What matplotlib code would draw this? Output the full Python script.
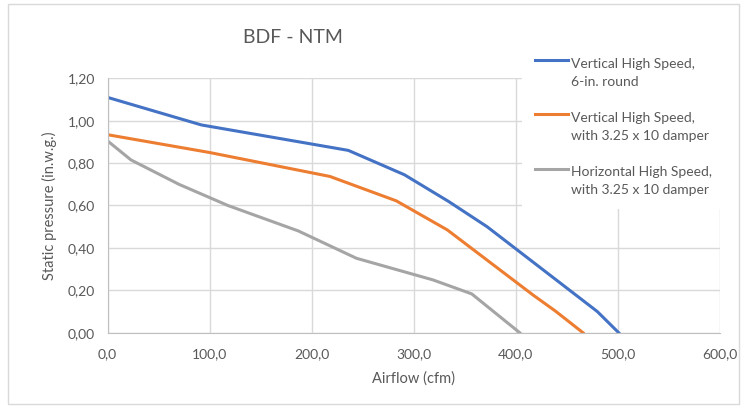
import matplotlib.pyplot as plt
from matplotlib.ticker import FuncFormatter, MultipleLocator
from matplotlib.patches import Rectangle

# Fan curves (airflow in cfm, static pressure in in.w.g.)
vert_round_x = [0, 92, 236, 291, 334, 372, 480, 501]
vert_round_y = [1.11, 0.98, 0.86, 0.745, 0.62, 0.50, 0.10, 0.0]

vert_damper_x = [0, 100, 218, 283, 333, 417, 439, 466]
vert_damper_y = [0.934, 0.85, 0.737, 0.622, 0.485, 0.178, 0.102, 0.0]

horiz_damper_x = [0, 23, 70, 118, 187, 244, 319, 357, 404]
horiz_damper_y = [0.905, 0.815, 0.70, 0.60, 0.48, 0.351, 0.249, 0.183, 0.0]

labels = ["Vertical High Speed,\n6-in. round",
          "Vertical High Speed,\nwith 3.25 x 10 damper",
          "Horizontal High Speed,\nwith 3.25 x 10 damper"]
colors = ["#4472C4", "#ED7D31", "#A5A5A5"]

plt.rcParams['font.family'] = ['Lato', 'DejaVu Sans']
txt = "#595959"

fig = plt.figure(figsize=(7.47, 4.12), dpi=100)
ax = fig.add_axes([107.5 / 747, 1 - 332.7 / 412, 612.2 / 747, 254.4 / 412])

ax.plot(vert_round_x, vert_round_y, color=colors[0], lw=2.2, label=labels[0])
ax.plot(vert_damper_x, vert_damper_y, color=colors[1], lw=2.2, label=labels[1])
ax.plot(horiz_damper_x, horiz_damper_y, color=colors[2], lw=2.2, label=labels[2])

ax.set_xlim(0, 600)
ax.set_ylim(0, 1.2)
ax.xaxis.set_major_locator(MultipleLocator(100))
ax.yaxis.set_major_locator(MultipleLocator(0.2))
ax.xaxis.set_major_formatter(FuncFormatter(lambda v, p: f"{v:.1f}".replace(".", ",")))
ax.yaxis.set_major_formatter(FuncFormatter(lambda v, p: f"{v:.2f}".replace(".", ",")))
ax.grid(True, color="#d9d9d9", lw=1)
ax.set_axisbelow(True)
for s in ["top", "right"]:
    ax.spines[s].set_visible(False)
for s in ["left", "bottom"]:
    ax.spines[s].set_color("#bfbfbf")
ax.tick_params(axis='both', length=0, labelsize=10, labelcolor=txt)
ax.tick_params(axis='x', pad=11)
ax.tick_params(axis='y', pad=9)

ax.set_xlabel("Airflow (cfm)", fontsize=10.5, color=txt, labelpad=8)
ax.set_ylabel("Static pressure (in.w.g.)", fontsize=10.5, color=txt, labelpad=8)

fig.text(293 / 747, 1 - 37.5 / 412, "BDF - NTM", fontsize=14, color=txt,
         ha='center', va='center')

leg = ax.legend(loc='upper left', bbox_to_anchor=(522 / 747, 1 - 45 / 412),
                bbox_transform=fig.transFigure, borderaxespad=0, borderpad=0.9,
                frameon=True, facecolor='white', edgecolor='none', framealpha=1,
                fontsize=10, labelcolor=txt, handlelength=2.4, handletextpad=0.25,
                labelspacing=1.75, fancybox=False)
for t in leg.get_texts():
    t.set_linespacing(1.6)
# put each handle level with the first line of its label
for h in leg.legend_handles:
    h.set_ydata([y + 9 for y in h.get_ydata()])

fig.add_artist(Rectangle((8 / 747, 8 / 412), 731 / 747, 400 / 412,
                         transform=fig.transFigure, fill=False,
                         edgecolor="#d9d9d9", lw=1))

plt.savefig("out.png", dpi=100)
